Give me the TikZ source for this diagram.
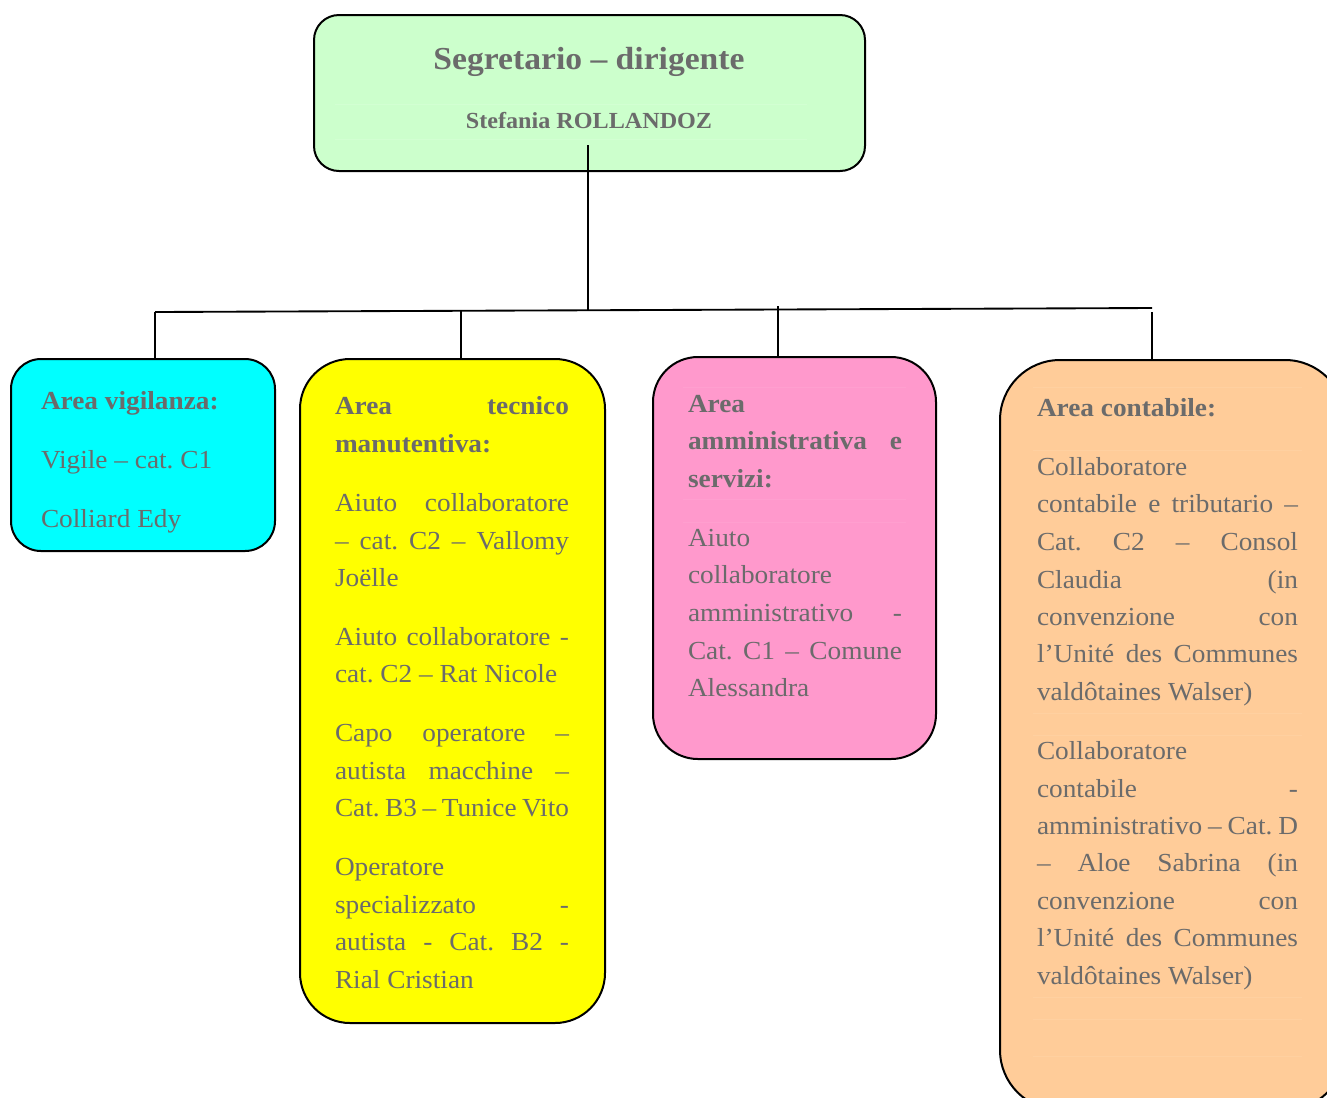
\documentclass[tikz,border=0pt]{standalone}
\usepackage{fontspec}
\setmainfont{Liberation Serif}[FakeStretch=1.05]
\definecolor{tgray}{HTML}{6B6B6B}
\definecolor{cgreen}{HTML}{CCFFCC}
\definecolor{ccyan}{HTML}{00FFFF}
\definecolor{cyel}{HTML}{FFFF00}
\definecolor{cpink}{HTML}{FF99CC}
\definecolor{corange}{HTML}{FFCC99}
\definecolor{fpink}{HTML}{FF9FCF}
\definecolor{forange}{HTML}{FFD0A0}
\definecolor{fgreen}{HTML}{D2FFD2}
\newcommand\bodyfont{\fontsize{19.5pt}{22pt}\selectfont}
\newcommand\jline[5]{\node[#1] (#2) at (#3) {\makebox[#4][s]{#5}};}
\newcommand\pline[4]{\node[#1] (#2) at (#3) {#4};}
\begin{document}
\frenchspacing
\begin{tikzpicture}[x=0.75pt,y=-0.75pt,
  box/.style={draw=black, line width=1.5pt, inner sep=0pt, outer sep=0pt},
  conn/.style={draw=black, line width=1.4pt},
  txt/.style={anchor=base west, inner sep=0pt, outer sep=0pt, text=tgray, font=\bodyfont},
  hd/.style={txt, font=\bodyfont\bfseries},
  faint/.style={line width=0.6pt}]
\useasboundingbox (0,0) rectangle (1327,1097);
\clip (0,0) rectangle (1327,1097);

% boxes
\node[box, fill=cgreen, rounded corners=18.75pt, minimum width=413.25pt, minimum height=117pt] (sec) at (589.5,93) {};
\node[box, fill=ccyan, rounded corners=22.5pt, minimum width=198pt, minimum height=144pt] (cyan) at (143,455) {};
\node[box, fill=cyel, rounded corners=37.5pt, minimum width=228.75pt, minimum height=498pt] (yel) at (452.5,691) {};
\node[box, fill=cpink, rounded corners=33.75pt, minimum width=212.25pt, minimum height=301.5pt] (pink) at (794.5,558) {};
\node[box, fill=corange, rounded corners=45pt, minimum width=258.75pt, minimum height=562.5pt] (ora) at (1172.5,735) {};

% faint table lines
\draw[faint, fgreen] (335,104) -- (807,104) (335,139) -- (807,139);
\draw[faint, fpink] (683,387) -- (906,387) (683,499) -- (906,499) (683,522) -- (906,522);
\draw[faint, forange] (1033,387) -- (1302,387) (1033,450) -- (1302,450)
  (1033,713) -- (1302,713) (1033,735) -- (1302,735)
  (1033,997) -- (1302,997) (1033,1019) -- (1302,1019) (1033,1056) -- (1302,1056);

% title
\node[anchor=base, inner sep=0pt, text=tgray, font=\fontsize{24pt}{28pt}\selectfont\bfseries] (title) at (589,69) {Segretario – dirigente};
\node[anchor=base, inner sep=0pt, text=tgray, font=\fontsize{17.25pt}{20pt}\selectfont\bfseries] (name) at (589,128) {Stefania ROLLANDOZ};

% connectors
\coordinate (s0) at (588,145);
\coordinate (j0) at (588,310);
\coordinate (hl) at (155,312);
\coordinate (hr) at (1152,308);
\coordinate (d2) at (461,311);
\coordinate (d3) at (778,306);
\coordinate (d4) at (1152,312);
\draw[conn] (s0) -- (j0);
\draw[conn] (hl) -- (hr);
\draw[conn] (hl) -- (hl |- cyan.north);
\draw[conn] (d2) -- (d2 |- yel.north);
\draw[conn] (d3) -- (d3 |- pink.north);
\draw[conn] (d4) -- (d4 |- ora.north);

% cyan text
\pline{hd}{c1}{41,409}{Area vigilanza:}
\pline{txt}{c2}{41,468}{Vigile – cat. C1}
\pline{txt}{c3}{41,527}{Colliard Edy}

% yellow text
\jline{hd}{y1}{335,414}{175.5pt}{Area tecnico}
\pline{hd}{y2}{335,452}{manutentiva:}
\jline{txt}{y3}{335,511}{175.5pt}{Aiuto collaboratore}
\jline{txt}{y4}{335,549}{175.5pt}{– cat. C2 – Vallomy}
\pline{txt}{y5}{335,586}{Joëlle}
\jline{txt}{y6}{335,645}{175.5pt}{Aiuto collaboratore -}
\pline{txt}{y7}{335,682}{cat. C2 – Rat Nicole}
\jline{txt}{y8}{335,741}{175.5pt}{Capo operatore –}
\jline{txt}{y9}{335,779}{175.5pt}{autista macchine –}
\jline{txt}{y10}{335,816}{175.5pt}{Cat. B3 – Tunice Vito}
\pline{txt}{y11}{335,875}{Operatore}
\jline{txt}{y12}{335,913}{175.5pt}{specializzato -}
\jline{txt}{y13}{335,950}{175.5pt}{autista - Cat. B2 -}
\pline{txt}{y14}{335,988}{Rial Cristian}

% pink text
\pline{hd}{p1}{688,412}{Area}
\jline{hd}{p2}{688,449}{160.5pt}{amministrativa e}
\pline{hd}{p3}{688,487}{servizi:}
\pline{txt}{p4}{688,546}{Aiuto}
\pline{txt}{p5}{688,583}{collaboratore}
\jline{txt}{p6}{688,621}{160.5pt}{amministrativo -}
\jline{txt}{p7}{688,659}{160.5pt}{Cat. C1 – Comune}
\pline{txt}{p8}{688,696}{Alessandra}

% orange text
\pline{hd}{o1}{1037,416}{Area contabile:}
\pline{txt}{o2}{1037,475}{Collaboratore}
\jline{txt}{o3}{1037,512}{195.75pt}{contabile e tributario –}
\jline{txt}{o4}{1037,550}{195.75pt}{Cat. C2 – Consol}
\jline{txt}{o5}{1037,588}{195.75pt}{Claudia (in}
\jline{txt}{o6}{1037,625}{195.75pt}{convenzione con}
\jline{txt}{o7}{1037,662}{195.75pt}{l’Unité des Communes}
\pline{txt}{o8}{1037,700}{valdôtaines Walser)}
\pline{txt}{o9}{1037,759}{Collaboratore}
\jline{txt}{o10}{1037,797}{195.75pt}{contabile -}
\jline{txt}{o11}{1037,834}{195.75pt}{amministrativo – Cat. D}
\jline{txt}{o12}{1037,871}{195.75pt}{– Aloe Sabrina (in}
\jline{txt}{o13}{1037,909}{195.75pt}{convenzione con}
\jline{txt}{o14}{1037,946}{195.75pt}{l’Unité des Communes}
\pline{txt}{o15}{1037,984}{valdôtaines Walser)}
\end{tikzpicture}
\end{document}
